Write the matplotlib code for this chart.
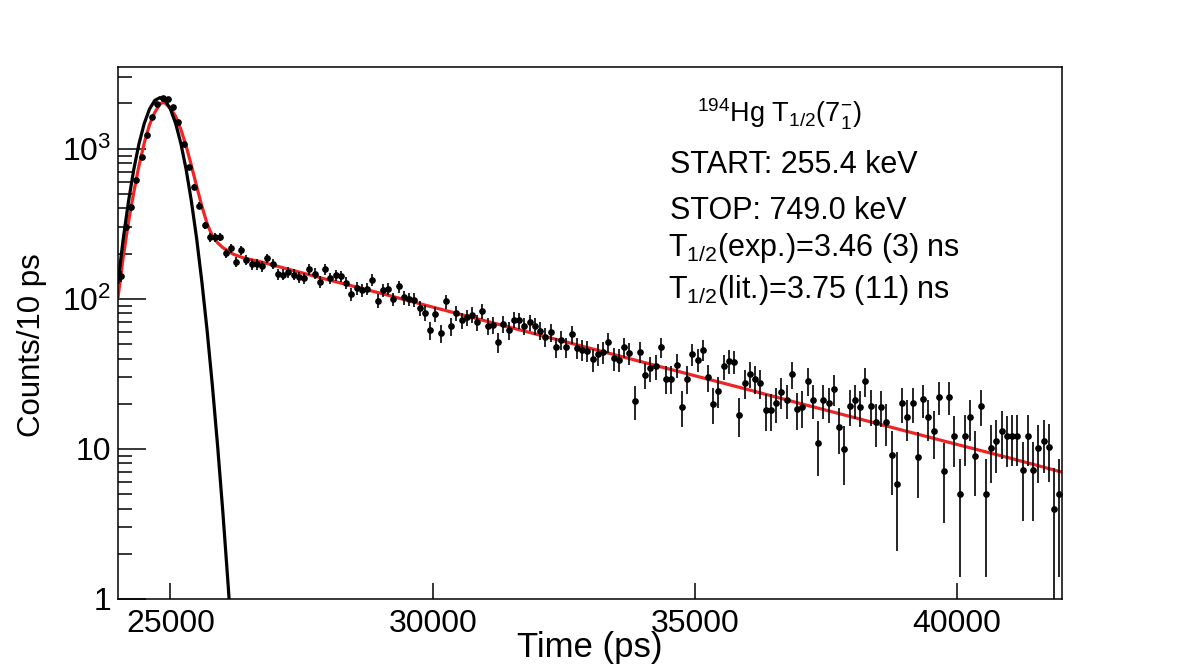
import numpy as np
import matplotlib
matplotlib.use("Agg")
import matplotlib.pyplot as plt
from matplotlib.ticker import FixedLocator, FixedFormatter, NullLocator, LogLocator

FONT = "Liberation Sans"
plt.rcParams["font.family"] = [FONT, "DejaVu Sans"]
plt.rcParams["mathtext.fontset"] = "custom"
plt.rcParams["mathtext.rm"] = FONT
plt.rcParams["mathtext.it"] = FONT + ":italic"
plt.rcParams["mathtext.bf"] = FONT + ":bold"

# histogram: 100 ps bins, centres from 24050 ps
time_ps = np.arange(24050, 42000, 100)
counts = [
    142, 303, 406, 615, 880, 1240, 1617, 1995, 2178, 2154,
    1885, 1506, 1080, 750, 554, 418, 308, 256, 257, 259,
    201, 217, 176, 211, 182, 170, 170, 165, 186, 171,
    146, 145, 150, 145, 139, 137, 158, 147, 130, 158,
    137, 144, 141, 128, 108, 118, 114, 117, 134, 97,
    114, 117, 99.5, 121, 102, 99.5, 98.5, 86.7, 81, 61.5,
    79.4, 59, 96, 65.4, 80.3, 71.7, 75.5, 78.2, 69.5, 83.2,
    66.1, 67.1, 51.4, 68.1, 61.5, 72.4, 71.7, 66.1, 69.5, 66.1,
    61.2, 55.5, 60, 47.6, 53.3, 47.6, 58.2, 47.1, 45.7, 45.2,
    39.6, 43, 44.1, 51.4, 40.2, 39.2, 47.6, 43.5, 21, 44.5,
    31.2, 34.5, 35.4, 47.6, 29.3, 29.3, 36.3, 19.1, 29.3, 42.8,
    39.2, 45.7, 30.1, 20, 24.4, 35.4, 38.6, 38.2, 16.9, 27.4,
    31.6, 29.3, 27.4, 18.2, 18.2, 20.3, 24.1, 21.2, 31.5, 18.4,
    19, 28.4, 21.2, 11, 21.2, 20.3, 25.2, 14, 9.95, 19.4,
    21.2, 19.1, 28.3, 19.4, 15.1, 19.1, 15.2, 9.1, 5.8, 20.2,
    16.3, 20.3, 8.8, 21.4, 16.3, 13.2, 22.3, 7.1, 22.3, 12.1,
    5.0, 12.2, 16.3, 9.0, 19.4, 5.0, 10.2, 11.3, 13.2, 12.1,
    12.2, 12.2, 7.2, 12.2, 7.2, 10.2, 11.3, 10.3, 4.0, 5.0,
]
bkg_var = 8.0  # extra variance seen in the error bars of the tail

# prompt (gaussian) response, black curve
prompt_t = [24000, 24100, 24200, 24300, 24400, 24500, 24600, 24700, 24800,
            24900, 25000, 25100, 25200, 25300, 25400, 25500, 25600, 25700,
            25800, 25900, 26000, 26100, 26200]
prompt_v = [129, 251, 445, 724, 1078, 1469, 1834, 2094, 2188,
            2094, 1834, 1469, 1078, 724, 445, 251, 129, 61,
            26.3, 10.4, 3.76, 1.24, 0.38]

# full fit (prompt convolved with decay), red curve
fit_t = [24000, 24100, 24200, 24300, 24400, 24500, 24600, 24700, 24800, 24850,
         24900, 25000, 25100, 25200, 25300, 25400, 25500, 25600, 25700, 25800,
         25900, 26000, 26200, 26400, 26700, 27000, 28000, 29000, 30000, 31000,
         32000, 33000, 34000, 35000, 36000, 37000, 38000, 39000, 40000, 41000,
         42000]
fit_v = [102, 190, 325, 510, 770, 1090, 1440, 1740, 1985, 2030,
         2010, 1860, 1640, 1340, 1040, 770, 560, 413, 316, 262,
         236, 219, 198, 187, 177, 166, 134, 109, 88, 71.3,
         57.8, 46.8, 37.9, 30.7, 24.9, 20.1, 16.3, 13.2, 10.7, 8.7,
         7.0]

info_lines = [
    r"$^{194}$Hg T$_{1/2}$(7$^{-}_{1}$)",
    "START: 255.4 keV",
    "STOP: 749.0 keV",
    r"T$_{1/2}$(exp.)=3.46 (3) ns",
    r"T$_{1/2}$(lit.)=3.75 (11) ns",
]

W, H = 1182, 665
fig = plt.figure(figsize=(W / 100, H / 100), dpi=100)
ax = fig.add_axes([118 / W, 66 / H, 944 / W, 532 / H])

counts = np.array(counts, dtype=float)
errs = np.sqrt(counts + bkg_var)

ax.plot(fit_t, fit_v, color="#f02424", lw=2.3, zorder=2)
ax.plot(prompt_t, prompt_v, color="black", lw=2.3, zorder=3)
ax.errorbar(time_ps, counts, yerr=errs, fmt="o", color="black", ms=3.8,
            elinewidth=1.2, capsize=0, zorder=4)

ax.set_yscale("log")
ax.set_xlim(24000, 42000)
ax.set_ylim(1, 3500)

ax.xaxis.set_major_locator(FixedLocator([25000, 30000, 35000, 40000]))
ax.xaxis.set_minor_locator(NullLocator())
ax.yaxis.set_major_locator(FixedLocator([1, 10, 100, 1000]))
ax.yaxis.set_major_formatter(FixedFormatter(
    ["1", "10", r"$\mathdefault{10^{2}}$", r"$\mathdefault{10^{3}}$"]))
ax.yaxis.set_minor_locator(LogLocator(base=10, subs=np.arange(2, 10)))
ax.yaxis.set_minor_formatter(FixedFormatter([]))

ax.tick_params(axis="x", which="major", direction="in", length=11.5, width=1.1,
               top=False, labelsize=23, pad=7)
ax.tick_params(axis="y", which="major", direction="in", length=20.4, width=1.1,
               right=False, labelsize=23, pad=5)
ax.tick_params(axis="y", which="minor", direction="in", length=10.2, width=1.1,
               right=False)
for sp in ax.spines.values():
    sp.set_linewidth(1.1)

fig.text(590 / W, (H - 657) / H, "Time (ps)", ha="center", va="baseline", fontsize=25)
fig.text(32 / W, (H - 345) / H, "Counts/10 ps", ha="center", va="center",
         rotation=90, fontsize=22.5)

# annotation block (x, baseline y in pixels, size)
info_pos = [(697, 123, 19.5), (670, 173, 22), (670, 219, 22), (668, 256, 22), (668, 298, 22)]
for txt, (px, py, fs) in zip(info_lines, info_pos):
    fig.text(px / W, (H - py) / H, txt, ha="left", va="baseline", fontsize=fs)

fig.savefig("out.png", dpi=100)
